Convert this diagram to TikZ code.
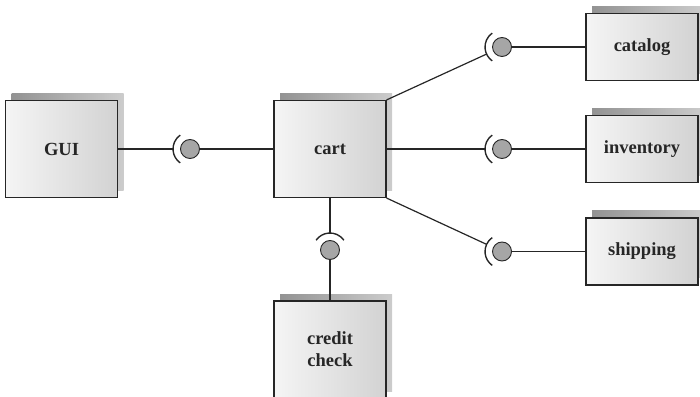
\documentclass[tikz,border=0pt]{standalone}
\usepackage{fontspec}
\setmainfont{Liberation Serif}
\usetikzlibrary{shadows}

\begin{document}
\begin{tikzpicture}[x=1pt, y=1pt,
    comp/.style={draw=black!85, line width=1.1pt, left color=gray!8, right color=gray!35,
        text=black!85, font=\fontsize{18.5}{22}\selectfont\bfseries, align=center,
        minimum width=112pt, minimum height=97pt, inner sep=0pt,
        general shadow={shadow xshift=6pt, shadow yshift=7pt, left color=gray!85, right color=gray!40}},
    flat/.style={comp, minimum height=67pt},
    ball/.style={circle, draw=black!85, fill=gray!70, line width=0.9pt, minimum size=19pt, inner sep=0pt},
    wire/.style={draw=black!85, line width=1.2pt},
    socket/.style={draw=black!85, line width=1.4pt}]
    \useasboundingbox (0,0) rectangle (700,396);

    % components
    \node[comp] (gui) at (61.5,247) {GUI};
    \node[comp] (cart) at (330,247) {cart};
    \node[comp] (credit) at (330,46.5) {credit\\check};
    \node[flat] (catalog) at (642,349) {catalog};
    \node[flat] (inventory) at (642,247) {inventory};
    \node[flat] (shipping) at (642,144.5) {shipping};

    % provided interfaces
    \node[ball] (bgui) at (190,247) {};
    \node[ball] (bcredit) at (330,146) {};
    \node[ball] (bcatalog) at (502,349) {};
    \node[ball] (binventory) at (502,247) {};
    \node[ball] (bshipping) at (502,144.5) {};

    % required interfaces
    \draw[socket] (bgui.center) ++(125:17pt) arc[start angle=125, end angle=235, radius=17pt];
    \draw[socket] (bcredit.center) ++(35:17pt) arc[start angle=35, end angle=145, radius=17pt];
    \draw[socket] (bcatalog.center) ++(125:17pt) arc[start angle=125, end angle=235, radius=17pt];
    \draw[socket] (binventory.center) ++(125:17pt) arc[start angle=125, end angle=235, radius=17pt];
    \draw[socket] (bshipping.center) ++(125:17pt) arc[start angle=125, end angle=235, radius=17pt];

    % wires
    \draw[wire, shorten >=7.5pt] (gui.east) -- (bgui);
    \draw[wire] (bgui) -- (cart.west);
    \draw[wire, shorten >=7.5pt] (cart.south) -- (bcredit);
    \draw[wire] (bcredit) -- (credit.north);
    \draw[wire, shorten >=7.5pt] (cart.north east) -- (bcatalog);
    \draw[wire] (bcatalog) -- (catalog.west);
    \draw[wire, shorten >=7.5pt] (cart.east) -- (binventory);
    \draw[wire] (binventory) -- (inventory.west);
    \draw[wire, shorten >=7.5pt] (cart.south east) -- (bshipping);
    \draw[wire] (bshipping) -- (shipping.west);
\end{tikzpicture}
\end{document}
